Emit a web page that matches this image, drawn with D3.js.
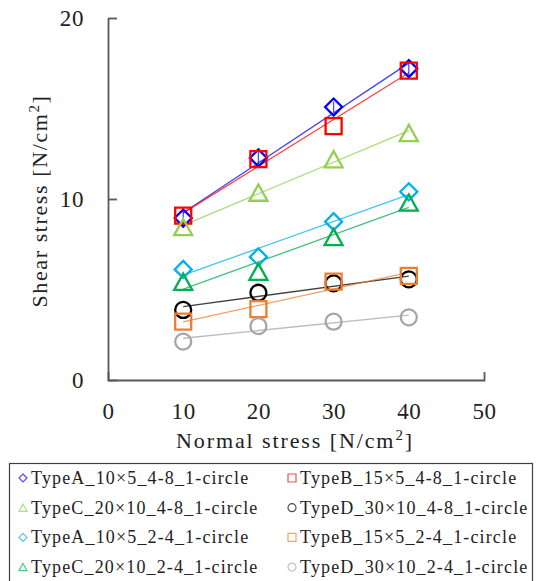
<!DOCTYPE html>
<html>
<head>
<meta charset="utf-8">
<script src="https://cdn.jsdelivr.net/npm/d3@7"></script>
<style>
  body { margin: 0; background: #fff; }
  text { font-family: "Liberation Serif", "Times New Roman", serif; fill: #222; }
</style>
</head>
<body>
<div id="chart"></div>
<script>
'use strict';

// normal stress levels [N/cm2]
var normalStress = [10, 20, 30, 40];

// shear stress [N/cm2], one array per specimen
var typeA_48 = [8.95, 12.27, 15.08, 17.2];
var typeB_48 = [9.08, 12.2, 14.03, 17.09];
var typeC_48 = [8.45, 10.35, 12.2, 13.65];
var typeD_48 = [3.87, 4.82, 5.34, 5.56];
var typeA_24 = [6.11, 6.8, 8.75, 10.4];
var typeB_24 = [3.22, 3.92, 5.43, 5.75];
var typeC_24 = [5.43, 5.98, 7.9, 9.8];
var typeD_24 = [2.12, 2.98, 3.22, 3.46];

// small spread shown on TypeA_4-8 only
var typeA_48_err = [0.55, 0.45, 0.3, 0.5];

var seriesNames = [
  'TypeA_10×5_4-8_1-circle', 'TypeB_15×5_4-8_1-circle',
  'TypeC_20×10_4-8_1-circle', 'TypeD_30×10_4-8_1-circle',
  'TypeA_10×5_2-4_1-circle', 'TypeB_15×5_2-4_1-circle',
  'TypeC_20×10_2-4_1-circle', 'TypeD_30×10_2-4_1-circle'
];
var seriesValues = [typeA_48, typeB_48, typeC_48, typeD_48, typeA_24, typeB_24, typeC_24, typeD_24];
var seriesShapes = ['diamond', 'square', 'triangle', 'circle', 'diamond', 'square', 'triangle', 'circle'];
var seriesColors = ['#0000ff', '#ff0000', '#92d050', '#000000', '#00b0f0', '#ed7d31', '#00b050', '#a6a6a6'];

var xTicks = [0, 10, 20, 30, 40, 50];
var yTicks = [0, 10, 20];

var width = 539, height = 581;
var plot = { left: 108, right: 484, top: 18, bottom: 380 };
var fontFamily = '"Liberation Serif", "Times New Roman", serif';

var svg = d3.select('#chart').append('svg')
  .attr('width', width)
  .attr('height', height);

var xScale = d3.scaleLinear().domain([0, 50]).range([plot.left, plot.right]);
var yScale = d3.scaleLinear().domain([0, 20]).range([plot.bottom, plot.top]);

var axisColor = '#595959';

// y axis, ticks pointing inside
var yAxis = d3.axisLeft(yScale)
  .tickValues(yTicks)
  .tickSizeInner(-9)
  .tickSizeOuter(0)
  .tickPadding(24);

var yAxisGroup = svg.append('g')
  .attr('transform', 'translate(' + plot.left + ',0)')
  .call(yAxis);

// x axis, only end ticks
var xAxis = d3.axisBottom(xScale)
  .tickValues(xTicks)
  .tickSizeInner(0)
  .tickSizeOuter(-8)
  .tickPadding(23);

var xAxisGroup = svg.append('g')
  .attr('transform', 'translate(0,' + plot.bottom + ')')
  .call(xAxis);

[yAxisGroup, xAxisGroup].forEach(function(g) {
  g.attr('font-family', fontFamily);
  g.select('.domain').attr('stroke', axisColor).attr('stroke-width', 1.8);
  g.selectAll('.tick line').attr('stroke', axisColor).attr('stroke-width', 1.8);
  g.selectAll('.tick text')
    .attr('fill', '#222')
    .style('font-size', '23px')
    .style('letter-spacing', '0.6px');
});

// axis titles
var xTitle = svg.append('text')
  .attr('x', (xScale(0) + xScale(50)) / 2 - 1)
  .attr('y', 448)
  .attr('text-anchor', 'middle')
  .style('font-size', '22px')
  .style('letter-spacing', '1.9px');
xTitle.append('tspan').text('Normal stress [N/cm');
xTitle.append('tspan').attr('dy', -8).style('font-size', '15px').text('2');
xTitle.append('tspan').attr('dy', 8).text(']');

var yTitle = svg.append('text')
  .attr('transform', 'translate(47,' + 201 + ') rotate(-90)')
  .attr('text-anchor', 'middle')
  .style('font-size', '22px')
  .style('letter-spacing', '1.6px');
yTitle.append('tspan').text('Shear stress [N/cm');
yTitle.append('tspan').attr('dy', -8).style('font-size', '15px').text('2');
yTitle.append('tspan').attr('dy', 8).text(']');

// marker path around (0,0)
function markerPath(shape, s) {
  var h = s / 2;
  if (shape === 'diamond') {
    return 'M0,' + (-h) + 'L' + h + ',0L0,' + h + 'L' + (-h) + ',0Z';
  }
  if (shape === 'square') {
    return 'M' + (-h) + ',' + (-h) + 'H' + h + 'V' + h + 'H' + (-h) + 'Z';
  }
  if (shape === 'triangle') {
    var th = s * 0.9;
    return 'M0,' + (-th / 2) + 'L' + h + ',' + (th / 2) + 'L' + (-h) + ',' + (th / 2) + 'Z';
  }
  return d3.arc()({ innerRadius: 0, outerRadius: h, startAngle: 0, endAngle: 2 * Math.PI });
}

// least squares trend line over the measured range
function trend(values) {
  var mx = d3.mean(normalStress), my = d3.mean(values);
  var sxy = d3.sum(normalStress, function(x, i) { return (x - mx) * (values[i] - my); });
  var sxx = d3.sum(normalStress, function(x) { return (x - mx) * (x - mx); });
  var b = sxy / sxx, a = my - b * mx;
  var x0 = d3.min(normalStress), x1 = d3.max(normalStress);
  return [{ x: x0, y: a + b * x0 }, { x: x1, y: a + b * x1 }];
}

var line = d3.line()
  .x(function(d) { return xScale(d.x); })
  .y(function(d) { return yScale(d.y); });

var series = seriesNames.map(function(name, i) {
  return {
    name: name,
    shape: seriesShapes[i],
    color: seriesColors[i],
    points: seriesValues[i].map(function(v, j) { return { x: normalStress[j], y: v }; })
  };
});

// trend lines
svg.append('g').selectAll('path')
  .data(series)
  .enter()
  .append('path')
  .attr('d', function(d) { return line(trend(d.points.map(function(p) { return p.y; }))); })
  .attr('fill', 'none')
  .attr('stroke', function(d) { return d.color; })
  .attr('stroke-opacity', 0.75)
  .attr('stroke-width', 1.3);

// error bars on TypeA_4-8
var errGroup = svg.append('g').attr('stroke', '#0000ff').attr('stroke-width', 1.3).attr('stroke-opacity', 0.7);
errGroup.selectAll('line.bar')
  .data(typeA_48)
  .enter()
  .append('line')
  .attr('class', 'bar')
  .attr('x1', function(d, i) { return xScale(normalStress[i]); })
  .attr('x2', function(d, i) { return xScale(normalStress[i]); })
  .attr('y1', function(d, i) { return yScale(d - typeA_48_err[i]); })
  .attr('y2', function(d, i) { return yScale(d + typeA_48_err[i]); });

// markers
var seriesGroup = svg.append('g').selectAll('g')
  .data(series)
  .enter()
  .append('g');

seriesGroup.selectAll('path')
  .data(function(d) { return d.points.map(function(p) { return { p: p, s: d }; }); })
  .enter()
  .append('path')
  .attr('transform', function(d) { return 'translate(' + xScale(d.p.x) + ',' + yScale(d.p.y) + ')'; })
  .attr('d', function(d) {
    var size = d.s.shape === 'diamond' ? 17 : d.s.shape === 'triangle' ? 18 : 16;
    return markerPath(d.s.shape, size);
  })
  .attr('fill', 'none')
  .attr('stroke', function(d) { return d.s.color; })
  .attr('stroke-width', 2.3);

// legend
var legend = svg.append('g');
legend.append('rect')
  .attr('x', 9.5)
  .attr('y', 463.5)
  .attr('width', 523)
  .attr('height', 124)
  .attr('fill', 'none')
  .attr('stroke', '#404040')
  .attr('stroke-width', 1.2);

var legendItem = legend.selectAll('g.item')
  .data(series)
  .enter()
  .append('g')
  .attr('class', 'item')
  .attr('transform', function(d, i) {
    var col = i % 2, row = Math.floor(i / 2);
    return 'translate(' + (col === 0 ? 23 : 292) + ',' + (478 + row * 29.7) + ')';
  });

legendItem.append('path')
  .attr('d', function(d) { return markerPath(d.shape, 8); })
  .attr('fill', 'none')
  .attr('stroke', function(d) { return d.color; })
  .attr('stroke-opacity', 0.7)
  .attr('stroke-width', 1.2);

legendItem.append('text')
  .attr('x', 8)
  .attr('y', 6)
  .style('font-size', '18px')
  .style('letter-spacing', '1.15px')
  .text(function(d) { return d.name; });
</script>
</body>
</html>
